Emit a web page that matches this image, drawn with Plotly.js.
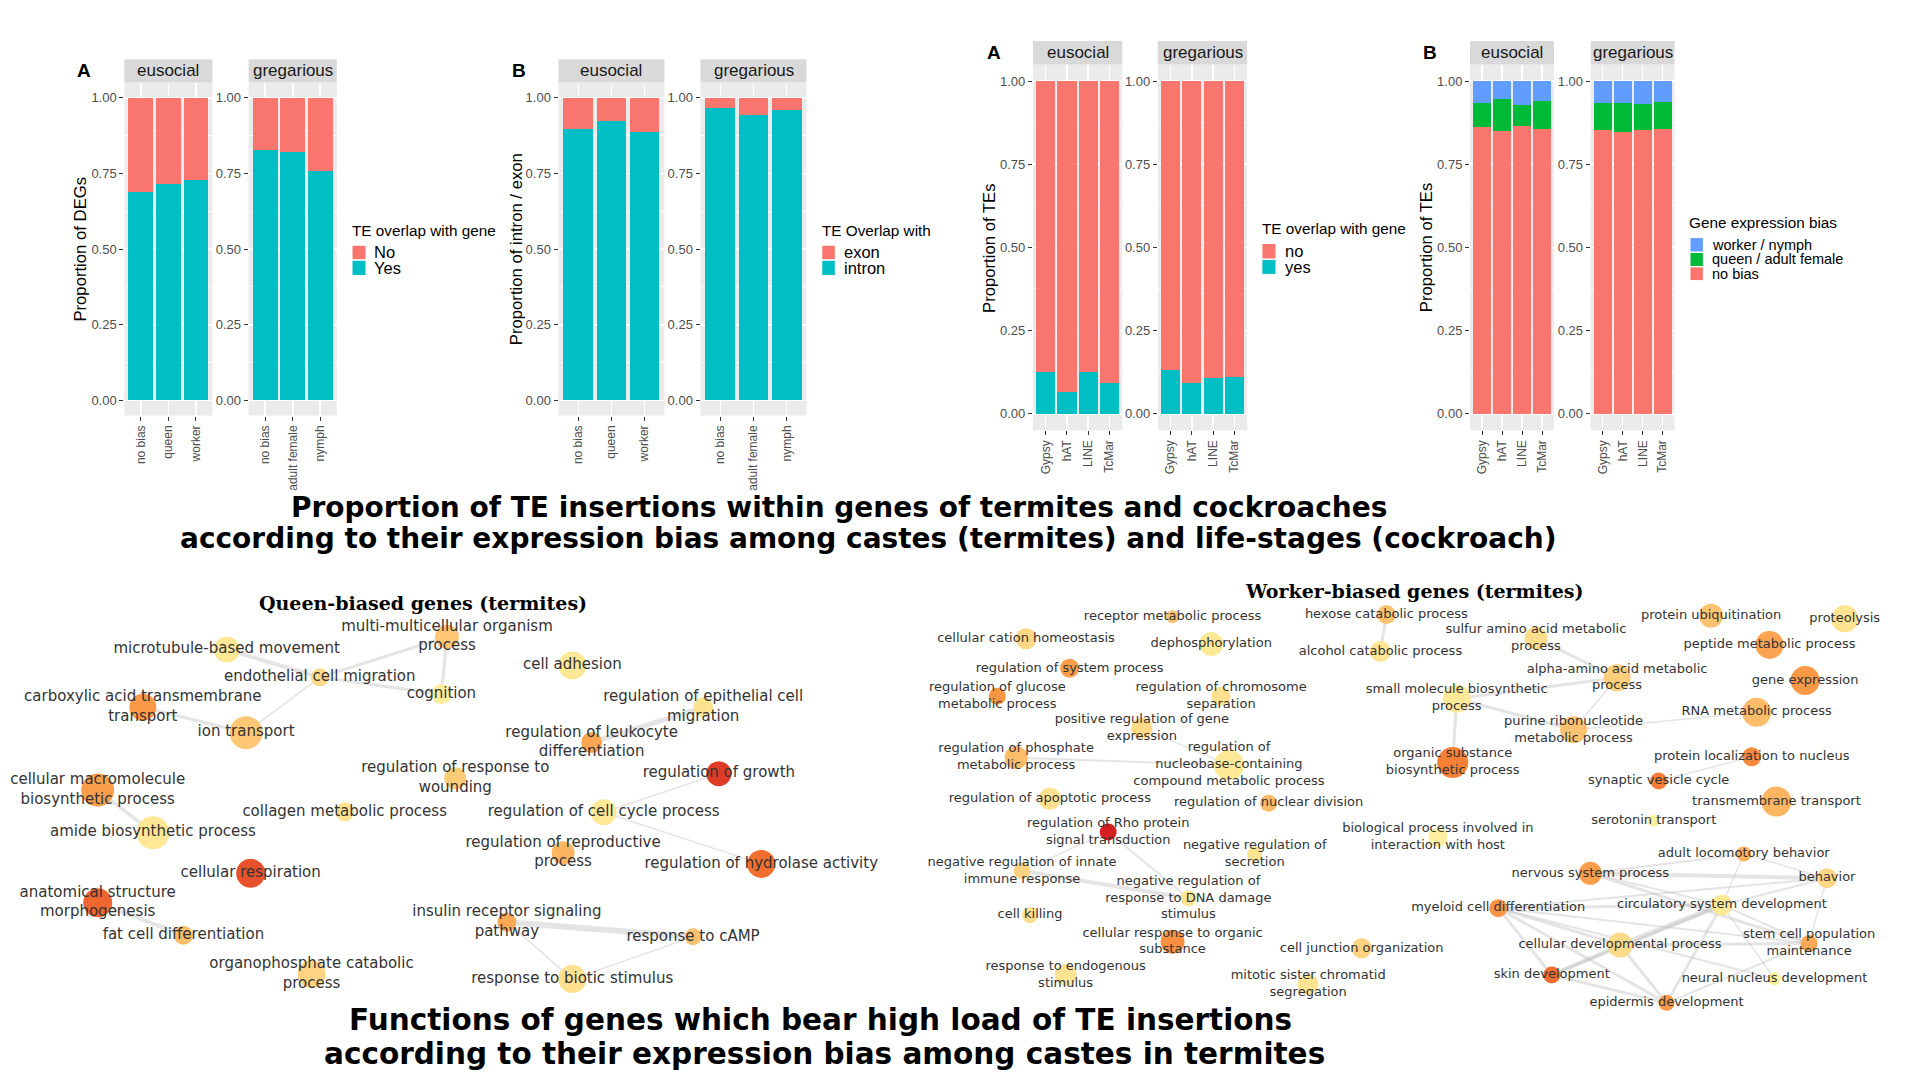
<!DOCTYPE html>
<html><head><meta charset="utf-8">
<script src="https://cdn.plot.ly/plotly-3.0.1.min.js"></script>
<style>html,body{margin:0;padding:0;background:#fff;}#chart{width:1920px;height:1080px;}</style>
</head><body><div id="chart"></div>
<script>
// ================= DATA =================
const termiteCastes = ['no bias', 'queen', 'worker'];
const cockroachStages = ['no bias', 'adult female', 'nymph'];
const teFamilies = ['Gypsy', 'hAT', 'LINE', 'TcMar'];
const yTickVals = [0, 0.25, 0.5, 0.75, 1];
const yTickText = ['0.00', '0.25', '0.50', '0.75', '1.00'];

// Panel A (left): proportion of DEGs overlapped by TEs
const degEusocialYes = [0.689, 0.715, 0.727];
const degEusocialNo = [0.311, 0.285, 0.273];
const degGregariousYes = [0.828, 0.822, 0.757];
const degGregariousNo = [0.172, 0.178, 0.243];
// Panel B (left): intron / exon
const intronEusocial = [0.897, 0.924, 0.887];
const exonEusocial = [0.103, 0.076, 0.113];
const intronGregarious = [0.966, 0.943, 0.961];
const exonGregarious = [0.034, 0.057, 0.039];
// Panel A (right): TEs overlapping genes
const teEusocialYes = [0.127, 0.064, 0.127, 0.093];
const teEusocialNo = [0.873, 0.936, 0.873, 0.907];
const teGregariousYes = [0.131, 0.092, 0.107, 0.110];
const teGregariousNo = [0.869, 0.908, 0.893, 0.890];
// Panel B (right): gene expression bias
const biasEusocialNoBias = [0.862, 0.849, 0.865, 0.855];
const biasEusocialQueen = [0.071, 0.096, 0.063, 0.084];
const biasEusocialWorker = [0.067, 0.055, 0.072, 0.061];
const biasGregariousNoBias = [0.852, 0.846, 0.854, 0.856];
const biasGregariousFemale = [0.081, 0.087, 0.076, 0.080];
const biasGregariousNymph = [0.067, 0.067, 0.070, 0.064];

// Network: queen-biased genes
const queenTerms = ['microtubule-based movement', 'multi-multicellular organism<br>process', 'endothelial cell migration', 'cognition',
  'carboxylic acid transmembrane<br>transport', 'ion transport', 'cellular macromolecule<br>biosynthetic process', 'amide biosynthetic process',
  'collagen metabolic process', 'cellular respiration', 'anatomical structure<br>morphogenesis', 'fat cell differentiation',
  'organophosphate catabolic<br>process', 'cell adhesion', 'regulation of epithelial cell<br>migration', 'regulation of leukocyte<br>differentiation',
  'regulation of response to<br>wounding', 'regulation of growth', 'regulation of cell cycle process', 'regulation of reproductive<br>process',
  'regulation of hydrolase activity', 'insulin receptor signaling<br>pathway', 'response to cAMP', 'response to biotic stimulus'];
const queenX = [0.246, 0.485, 0.347, 0.479, 0.155, 0.267, 0.106, 0.166, 0.374, 0.272, 0.106, 0.199, 0.338, 0.621, 0.763, 0.642, 0.494, 0.780, 0.655, 0.611, 0.826, 0.550, 0.752, 0.621];
const queenY = [0.855, 0.886, 0.787, 0.746, 0.714, 0.652, 0.512, 0.408, 0.459, 0.309, 0.237, 0.158, 0.063, 0.816, 0.714, 0.628, 0.541, 0.552, 0.458, 0.359, 0.332, 0.190, 0.154, 0.051];
const queenGeneCount = [26, 24, 18, 20, 27, 33, 33, 33, 19, 29, 29, 19, 28, 28, 20, 21, 22, 25, 26, 23, 28, 19, 17, 28];
const queenScore = [0.07, 0.30, 0.18, 0.03, 0.55, 0.30, 0.53, 0.07, 0.10, 0.86, 0.78, 0.35, 0.23, 0.07, 0.10, 0.48, 0.28, 0.92, 0.06, 0.40, 0.75, 0.47, 0.33, 0.12];
const queenEdgeFrom = [0, 2, 2, 1, 2, 4, 6, 10, 14, 17, 18, 21, 21, 22];
const queenEdgeTo = [2, 1, 3, 3, 5, 5, 7, 11, 15, 18, 20, 22, 23, 23];
const queenEdgeWeight = [4, 3, 3, 3, 1.5, 3, 3.5, 4, 5, 1.5, 1.5, 6, 1.5, 1.5];

// Network: worker-biased genes
const workerTerms = ['receptor metabolic process', 'cellular cation homeostasis', 'dephosphorylation', 'regulation of system process',
  'regulation of glucose<br>metabolic process', 'regulation of chromosome<br>separation', 'positive regulation of gene<br>expression',
  'regulation of phosphate<br>metabolic process', 'regulation of<br>nucleobase-containing<br>compound metabolic process',
  'regulation of apoptotic process', 'regulation of Rho protein<br>signal transduction', 'negative regulation of innate<br>immune response',
  'negative regulation of<br>response to DNA damage<br>stimulus', 'cell killing', 'cellular response to organic<br>substance',
  'response to endogenous<br>stimulus', 'negative regulation of<br>secretion', 'regulation of nuclear division', 'hexose catabolic process',
  'alcohol catabolic process', 'sulfur amino acid metabolic<br>process', 'small molecule biosynthetic<br>process',
  'purine ribonucleotide<br>metabolic process', 'organic substance<br>biosynthetic process',
  'biological process involved in<br>interaction with host', 'cell junction organization', 'mitotic sister chromatid<br>segregation',
  'myeloid cell differentiation', 'skin development', 'nervous system process', 'protein ubiquitination', 'proteolysis',
  'peptide metabolic process', 'gene expression', 'alpha-amino acid metabolic<br>process', 'RNA metabolic process',
  'protein localization to nucleus', 'synaptic vesicle cycle', 'transmembrane transport', 'serotonin transport',
  'adult locomotory behavior', 'behavior', 'circulatory system development', 'stem cell population<br>maintenance',
  'cellular developmental process', 'neural nucleus development', 'epidermis development'];
const workerX = [0.245, 0.097, 0.284, 0.141, 0.068, 0.294, 0.214, 0.087, 0.302, 0.121, 0.180, 0.093, 0.261, 0.101, 0.245, 0.137, 0.328, 0.342, 0.461, 0.455, 0.612, 0.532, 0.650, 0.528, 0.513, 0.436, 0.382, 0.574, 0.628, 0.667, 0.789, 0.924, 0.848, 0.884, 0.694, 0.835, 0.830, 0.736, 0.855, 0.731, 0.822, 0.906, 0.800, 0.888, 0.697, 0.853, 0.744];
const workerY = [0.935, 0.881, 0.868, 0.809, 0.741, 0.741, 0.663, 0.591, 0.573, 0.491, 0.410, 0.315, 0.248, 0.207, 0.142, 0.061, 0.356, 0.480, 0.940, 0.850, 0.882, 0.735, 0.659, 0.579, 0.397, 0.126, 0.038, 0.224, 0.061, 0.309, 0.937, 0.930, 0.866, 0.779, 0.786, 0.702, 0.593, 0.534, 0.484, 0.437, 0.356, 0.297, 0.232, 0.138, 0.134, 0.052, -0.007];
const workerGeneCount = [13, 21, 24, 19, 17, 19, 21, 23, 30, 22, 17, 17, 16, 16, 24, 22, 15, 17, 19, 21, 23, 28, 27, 31, 19, 20, 21, 18, 17, 23, 24, 27, 28, 29, 27, 29, 19, 17, 30, 12, 15, 20, 21, 17, 25, 13, 16];
const workerScore = [0.33, 0.20, 0.07, 0.53, 0.57, 0.12, 0.18, 0.36, 0.06, 0.12, 1.0, 0.22, 0.09, 0.15, 0.60, 0.09, 0.10, 0.37, 0.33, 0.08, 0.15, 0.06, 0.33, 0.67, 0.02, 0.23, 0.10, 0.58, 0.75, 0.52, 0.32, 0.10, 0.50, 0.56, 0.26, 0.36, 0.63, 0.68, 0.40, 0.01, 0.43, 0.20, 0.06, 0.47, 0.18, 0.02, 0.55];
const workerEdgeFrom = [18, 6, 7, 10, 10, 11, 20, 21, 21, 21, 34, 22, 36, 29, 29, 40, 29, 29, 40, 27, 27, 27, 27, 27, 27, 27, 42, 42, 42, 42, 42, 42, 44, 44, 44, 28, 43, 46];
const workerEdgeTo = [19, 8, 8, 11, 12, 12, 34, 34, 22, 23, 22, 35, 37, 41, 40, 41, 43, 42, 42, 41, 42, 44, 28, 46, 43, 45, 44, 43, 46, 45, 41, 28, 28, 43, 46, 46, 41, 43];
const workerEdgeWeight = [3, 1.5, 2, 1.5, 2, 4, 3, 3, 3, 3, 1.5, 1.5, 1.5, 4, 2, 1.5, 3, 2, 1.5, 2, 3, 3, 3, 3, 2, 2, 5, 2, 3, 1.5, 2, 3, 4, 3, 3, 3, 1.5, 2];

// ================= STYLE / LAYOUT =================
const RED = '#F8766D', TEAL = '#00BFC4', BLUE = '#619CFF', GREEN = '#00BA38';
const W = 1920, H = 1080;
const P = x => x / W, Q = y => 1 - y / H;
const SANS = 'Liberation Sans, Arial, sans-serif';
const nodeScale = [[0, '#fff2a2'], [0.1, '#fee391'], [0.25, '#fed07e'], [0.4, '#fdb562'], [0.55, '#fa9a48'], [0.7, '#f67a33'], [0.85, '#e8552d'], [1, '#d42020']];

const layout = {
  width: W, height: H, margin: {l: 0, r: 0, t: 0, b: 0},
  paper_bgcolor: '#ffffff', plot_bgcolor: 'rgba(0,0,0,0)',
  barmode: 'stack', bargap: 0.1, showlegend: false, hovermode: false,
  font: {family: SANS, color: '#1A1A1A'},
  shapes: [], annotations: []
};
const traces = [];

const facets = [
  {x0: 124.3, x1: 212.5, y0: 82.6, y1: 415.6, st: 59.2, strip: 'eusocial', cats: termiteCastes, series: [[degEusocialYes, TEAL], [degEusocialNo, RED]]},
  {x0: 248.6, x1: 336.8, y0: 82.6, y1: 415.6, st: 59.2, strip: 'gregarious', cats: cockroachStages, series: [[degGregariousYes, TEAL], [degGregariousNo, RED]]},
  {x0: 558.5, x1: 664.4, y0: 82.6, y1: 415.6, st: 59.2, strip: 'eusocial', cats: termiteCastes, series: [[intronEusocial, TEAL], [exonEusocial, RED]]},
  {x0: 700.5, x1: 806.5, y0: 82.6, y1: 415.6, st: 59.2, strip: 'gregarious', cats: cockroachStages, series: [[intronGregarious, TEAL], [exonGregarious, RED]]},
  {x0: 1032.9, x1: 1122.3, y0: 64.4, y1: 430.4, st: 41, strip: 'eusocial', cats: teFamilies, series: [[teEusocialYes, TEAL], [teEusocialNo, RED]]},
  {x0: 1157.8, x1: 1247.2, y0: 64.4, y1: 430.4, st: 41, strip: 'gregarious', cats: teFamilies, series: [[teGregariousYes, TEAL], [teGregariousNo, RED]]},
  {x0: 1470, x1: 1554, y0: 64.4, y1: 430.4, st: 41, strip: 'eusocial', cats: teFamilies, series: [[biasEusocialNoBias, RED], [biasEusocialQueen, GREEN], [biasEusocialWorker, BLUE]]},
  {x0: 1590.7, x1: 1674.6, y0: 64.4, y1: 430.4, st: 41, strip: 'gregarious', cats: teFamilies, series: [[biasGregariousNoBias, RED], [biasGregariousFemale, GREEN], [biasGregariousNymph, BLUE]]}
];

facets.forEach((f, i) => {
  const id = i === 0 ? '' : String(i + 1);
  const xa = 'x' + id, ya = 'y' + id;
  layout['xaxis' + id] = {
    domain: [P(f.x0), P(f.x1)], anchor: ya, type: 'category', categoryorder: 'array', categoryarray: f.cats,
    range: [-0.6, f.cats.length - 0.4], tickangle: -90, tickfont: {family: SANS, size: 12, color: '#4D4D4D'},
    ticks: 'outside', ticklen: 4, tickwidth: 1, tickcolor: '#333333', showgrid: true, gridcolor: '#FFFFFF', gridwidth: 1.6,
    zeroline: false, showline: false, fixedrange: true
  };
  layout['yaxis' + id] = {
    domain: [Q(f.y1), Q(f.y0)], anchor: xa, range: [-0.05, 1.05], tickmode: 'array', tickvals: yTickVals, ticktext: yTickText,
    tickfont: {family: SANS, size: 13, color: '#4D4D4D'}, ticks: 'outside', ticklen: 4, tickwidth: 1, tickcolor: '#333333',
    showgrid: true, gridcolor: '#FFFFFF', gridwidth: 1.6, zeroline: false, showline: false, fixedrange: true,
    minor: {tick0: 0.125, dtick: 0.25, showgrid: true, gridcolor: '#FFFFFF', gridwidth: 0.8, ticks: ''}
  };
  layout.shapes.push({type: 'rect', xref: xa + ' domain', yref: ya + ' domain', x0: 0, x1: 1, y0: 0, y1: 1,
    fillcolor: '#EBEBEB', line: {width: 0}, layer: 'below'});
  layout.shapes.push({type: 'rect', xref: 'paper', yref: 'paper', x0: P(f.x0), x1: P(f.x1), y0: Q(f.y0), y1: Q(f.st),
    fillcolor: '#D9D9D9', line: {width: 0}});
  layout.annotations.push({xref: 'paper', yref: 'paper', x: P((f.x0 + f.x1) / 2), y: Q((f.st + f.y0) / 2), text: f.strip,
    showarrow: false, xanchor: 'center', yanchor: 'middle', font: {family: SANS, size: 17, color: '#1A1A1A'}});
  f.series.forEach(([vals, color]) => {
    traces.push({type: 'bar', x: f.cats, y: vals, xaxis: xa, yaxis: ya, width: 0.9,
      marker: {color: color, line: {width: 0}}, hoverinfo: 'skip'});
  });
});

// panel letters
[['A', 84, 70.6], ['B', 519.3, 70.6], ['A', 993.7, 52.3], ['B', 1430.3, 52.3]].forEach(([t, x, y]) => {
  layout.annotations.push({xref: 'paper', yref: 'paper', x: P(x), y: Q(y), text: '<b>' + t + '</b>', showarrow: false,
    xanchor: 'center', yanchor: 'middle', font: {family: SANS, size: 19, color: '#000'}});
});
// y titles
[['Proportion of DEGs', 79.6, 249], ['Proportion of intron / exon', 516.2, 249], ['Proportion of TEs', 989.4, 247.6], ['Proportion of TEs', 1426.6, 247.6]].forEach(([t, x, y]) => {
  layout.annotations.push({xref: 'paper', yref: 'paper', x: P(x), y: Q(y), text: t, textangle: -90, showarrow: false,
    xanchor: 'center', yanchor: 'middle', font: {family: SANS, size: 16.7, color: '#000'}});
});
// legends
function legend(title, tx, ty, kx0, kx1, lx, size, items) {
  layout.annotations.push({xref: 'paper', yref: 'paper', x: P(tx - 2), y: Q(ty), text: title, showarrow: false,
    xanchor: 'left', yanchor: 'middle', font: {family: SANS, size: 15.3, color: '#000'}});
  items.forEach(([color, label, y0, y1]) => {
    layout.shapes.push({type: 'rect', xref: 'paper', yref: 'paper', x0: P(kx0), x1: P(kx1), y0: Q(y1), y1: Q(y0),
      fillcolor: color, line: {width: 1, color: '#FFFFFF'}});
    layout.annotations.push({xref: 'paper', yref: 'paper', x: P(lx - 2), y: Q((y0 + y1) / 2), text: label, showarrow: false,
      xanchor: 'left', yanchor: 'middle', font: {family: SANS, size: size, color: '#000'}});
  });
}
legend('TE overlap with gene', 352, 230, 352, 366, 374.2, 16.5, [[RED, 'No', 245.2, 259.8], [TEAL, 'Yes', 260.2, 275.5]]);
legend('TE Overlap with', 821.8, 230, 821.8, 835.3, 843.8, 16.5, [[RED, 'exon', 245.2, 259.8], [TEAL, 'intron', 260.2, 275.5]]);
legend('TE overlap with gene', 1261.9, 228.3, 1261.9, 1276, 1284.6, 16.5, [[RED, 'no', 243.5, 259], [TEAL, 'yes', 259.4, 274.4]]);
legend('Gene expression bias', 1688.7, 222.1, 1690, 1703.4, 1712, 14.5, [[BLUE, 'worker / nymph', 237.6, 252], [GREEN, 'queen / adult female', 252.4, 266.5], [RED, 'no bias', 266.9, 280.6]]);

// main titles
[['Proportion of TE insertions within genes of termites and cockroaches', 839, 507, 28],
 ['according to their expression bias among castes (termites) and life-stages (cockroach)', 868, 539, 28],
 ['Functions of genes which bear high load of TE insertions', 820, 1020, 29.5],
 ['according to their expression bias among castes in termites', 824.7, 1054, 29.5]].forEach(([t, x, y, s]) => {
  layout.annotations.push({xref: 'paper', yref: 'paper', x: P(x), y: Q(y), text: '<b>' + t + '</b>', showarrow: false,
    xanchor: 'center', yanchor: 'middle', font: {family: 'DejaVu Sans, sans-serif', size: s, color: '#000'}});
});
// network titles
[['Queen-biased genes (termites)', 422.5, 603], ['Worker-biased genes (termites)', 1414, 590.5]].forEach(([t, x, y]) => {
  layout.annotations.push({xref: 'paper', yref: 'paper', x: P(x), y: Q(y), text: '<b>' + t + '</b>', showarrow: false,
    xanchor: 'center', yanchor: 'middle', font: {family: 'DejaVu Serif, serif', size: 19, color: '#000'}});
});

// network axes
const netY = [Q(1020.5), Q(590)];
layout.xaxis9 = {domain: [0, P(921.6)], range: [0, 1], visible: false, anchor: 'y9', fixedrange: true};
layout.yaxis9 = {domain: netY, range: [-0.05, 1], visible: false, anchor: 'x9', fixedrange: true};
layout.xaxis10 = {domain: [P(930), 1], range: [0, 1], visible: false, anchor: 'y10', fixedrange: true};
layout.yaxis10 = {domain: netY, range: [-0.05, 1], visible: false, anchor: 'x10', fixedrange: true};

function network(xs, ys, terms, counts, scores, ef, et, ew, xa, ya, fontSize) {
  ef.forEach((a, k) => {
    const b = et[k];
    traces.push({type: 'scatter', mode: 'lines', x: [xs[a], xs[b]], y: [ys[a], ys[b]], xaxis: xa, yaxis: ya,
      line: {color: 'rgba(195,195,195,0.45)', width: ew[k]}, hoverinfo: 'skip', cliponaxis: false});
  });
  traces.push({type: 'scatter', mode: 'markers+text', x: xs, y: ys, text: terms, xaxis: xa, yaxis: ya,
    textposition: 'middle center', cliponaxis: false,
    textfont: {family: 'DejaVu Sans, sans-serif', size: fontSize, color: '#333333'},
    marker: {size: counts, color: scores, colorscale: nodeScale, cmin: 0, cmax: 1, line: {width: 0}, opacity: 1},
    hoverinfo: 'skip'});
}
network(queenX, queenY, queenTerms, queenGeneCount, queenScore, queenEdgeFrom, queenEdgeTo, queenEdgeWeight, 'x9', 'y9', 15);
network(workerX, workerY, workerTerms, workerGeneCount, workerScore, workerEdgeFrom, workerEdgeTo, workerEdgeWeight, 'x10', 'y10', 13);

Plotly.newPlot('chart', traces, layout, {staticPlot: true, displayModeBar: false});
</script>
</body></html>
